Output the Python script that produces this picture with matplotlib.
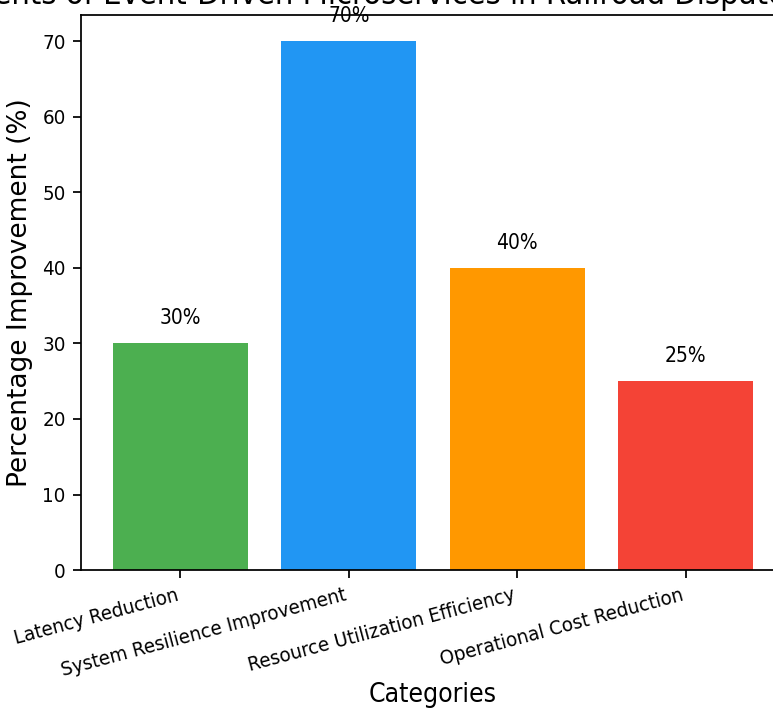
import matplotlib
matplotlib.use("Agg")
import matplotlib.pyplot as plt

# Datos de la grafica
categories = ["Latency Reduction", "System Resilience Improvement",
              "Resource Utilization Efficiency", "Operational Cost Reduction"]
improvements = [30, 70, 40, 25]
colors = ["#4CAF50", "#2196F3", "#FF9800", "#F44336"]
title = "Improvements of Event-Driven Microservices in Railroad Dispatching"

plt.rcParams["font.family"] = ["DejaVu Sans"]
plt.rcParams["font.stretch"] = "condensed"

fig = plt.figure(figsize=(773 / 158, 709 / 158), dpi=158)
ax = fig.add_axes([0.1048, 0.196, 0.911, 0.783])

bars = ax.bar(categories, improvements, color=colors)

# Etiquetas sobre cada barra
for bar, value in zip(bars, improvements):
    ax.text(bar.get_x() + bar.get_width() / 2, value + 2, f"{value}%",
            ha="center", va="bottom", fontsize=9.5)

# El titulo queda recortado arriba, como en la imagen original
ax.set_title(title, fontsize=14.8, pad=5.0, x=0.377)
ax.set_xlabel("Categories", fontsize=12, labelpad=0.8)
ax.set_ylabel("Percentage Improvement (%)", fontsize=12, fontstretch="normal")
ax.tick_params(axis="both", labelsize=9.3)
plt.setp(ax.get_xticklabels(), rotation=15, ha="right")

fig.savefig("out.png", dpi=158)
